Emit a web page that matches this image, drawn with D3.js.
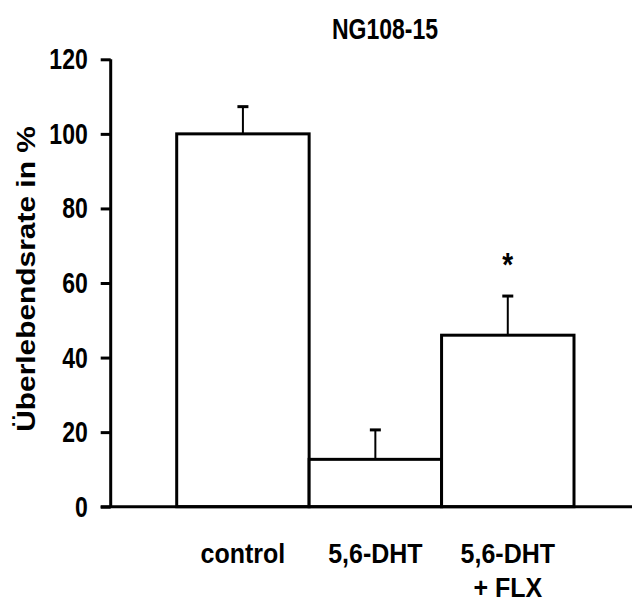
<!DOCTYPE html>
<html><head><meta charset="utf-8">
<script src="https://cdn.jsdelivr.net/npm/d3@7"></script>
<style>html,body{margin:0;padding:0;background:#fff}</style>
</head><body>
<script>
const categories = ["control", "5,6-DHT", "5,6-DHT\n+ FLX"];
const values = [100, 12.7, 46.0];
const errors = [7.3, 7.9, 10.5];
const yTicks = [0, 20, 40, 60, 80, 100, 120];
const title = "NG108-15";
const yLabel = "Überlebendsrate in %";
const marks = ["", "", "*"];

const W = 632, H = 603;
const FONT = "'Liberation Sans', Arial, sans-serif";
const svg = d3.select("body").append("svg").attr("width", W).attr("height", H)
  .style("font-family", FONT);

const axisX = 110.7;
const y = d3.scaleLinear().domain([0, 120]).range([506.7, 59.3]);
const x = d3.scaleBand().domain(categories).range([176.7, 574]).paddingInner(0).paddingOuter(0);

// bars
svg.selectAll("rect.bar").data(categories).enter().append("rect")
  .attr("x", d => x(d)).attr("width", x.bandwidth())
  .attr("y", (d, i) => y(values[i])).attr("height", (d, i) => y(0) - y(values[i]))
  .attr("fill", "#fff").attr("stroke", "#000").attr("stroke-width", 3);

// error bars
categories.forEach((c, i) => {
  const cx = x(c) + x.bandwidth() / 2;
  svg.append("line").attr("x1", cx).attr("x2", cx)
    .attr("y1", y(values[i])).attr("y2", y(values[i] + errors[i]))
    .attr("stroke", "#000").attr("stroke-width", 2);
  svg.append("line").attr("x1", cx - 5.5).attr("x2", cx + 5.5)
    .attr("y1", y(values[i] + errors[i])).attr("y2", y(values[i] + errors[i]))
    .attr("stroke", "#000").attr("stroke-width", 3);
  if (marks[i]) {
    svg.append("g").attr("transform", `translate(${cx},${y(values[i] + errors[i]) - 20}) scale(1,1.2)`)
      .append("text").attr("text-anchor", "middle").attr("font-size", 28).attr("font-weight", "bold")
      .text(marks[i]);
  }
});

// y axis
const yAxis = d3.axisLeft(y).tickValues(yTicks).tickSize(10).tickPadding(13).tickSizeOuter(0);
const gy = svg.append("g").attr("transform", `translate(${axisX},0)`).call(yAxis);
gy.select(".domain").attr("stroke", "#000").attr("stroke-width", 3)
  .attr("d", `M0,${y(120)}V${y(0)}`);
gy.selectAll(".tick line").attr("stroke", "#000").attr("stroke-width", 3);
gy.selectAll(".tick text").attr("font-size", 23).attr("font-weight", "bold")
  .attr("fill", "#000").attr("font-family", FONT).attr("transform", "scale(1,1.28)");

// x axis line
svg.append("line").attr("x1", axisX - 10).attr("x2", W).attr("y1", y(0)).attr("y2", y(0))
  .attr("stroke", "#000").attr("stroke-width", 3);

// category labels
categories.forEach(c => {
  const lines = c.split("\n");
  const cx = x(c) + x.bandwidth() / 2;
  lines.forEach((l, j) => {
    svg.append("g").attr("transform", `translate(${cx},${563 + j * 34}) scale(1,1.1)`)
      .append("text").attr("text-anchor", "middle")
      .attr("font-size", 25).attr("font-weight", "bold").text(l);
  });
});

// title
svg.append("g").attr("transform", "translate(385,39) scale(1,1.3)")
  .append("text").attr("text-anchor", "middle")
  .attr("font-size", 23).attr("font-weight", "bold").text(title);

// y label
svg.append("g").attr("transform", "translate(35,279) rotate(-90) scale(1.15,1)")
  .append("text").attr("text-anchor", "middle").attr("font-size", 26).attr("font-weight", "bold")
  .text(yLabel);
</script>
</body></html>
